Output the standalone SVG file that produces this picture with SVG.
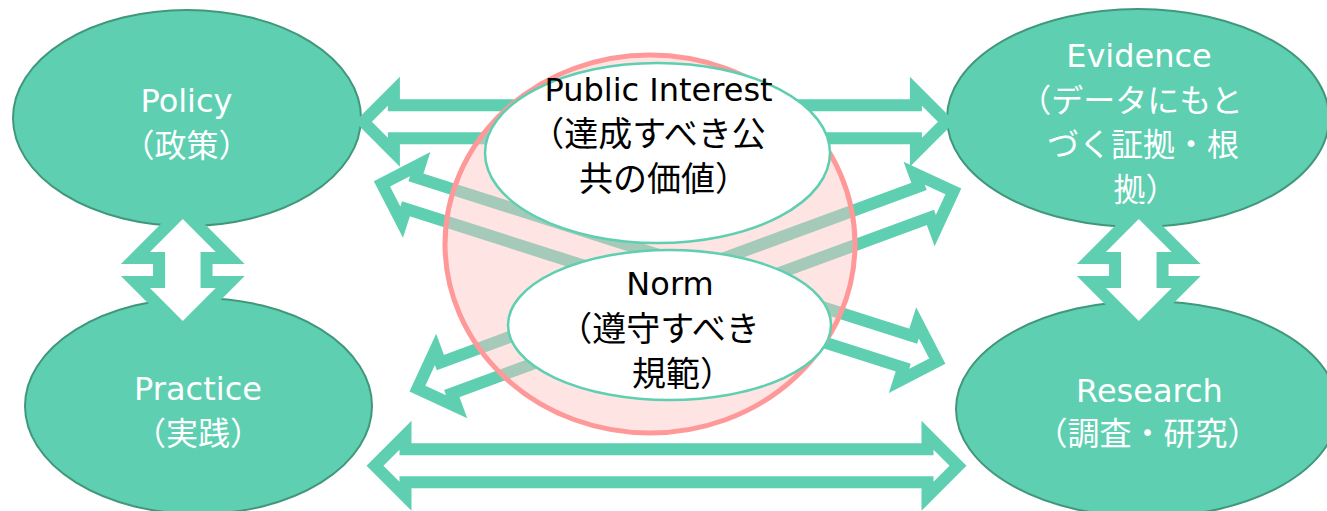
<svg xmlns="http://www.w3.org/2000/svg" width="1327" height="511" viewBox="0 0 1327 511">
  <style>
    .node { fill: #5ECFB1; stroke: #41977B; stroke-width: 2; }
    .arr { fill: #FFFFFF; stroke: #5ECFB1; stroke-width: 12; stroke-linejoin: miter; stroke-miterlimit: 10; }
    .inner { fill: #FFFFFF; stroke: #5ECFB1; stroke-width: 2.5; }
    .t { font-family: "DejaVu Sans", "Noto Sans CJK JP", sans-serif; font-size: 32px; text-anchor: middle; }
    .j { font-size: 34px; }
    .w { fill: #FFFFFF; }
    .k { fill: #000000; }
  </style>
  <defs>
    <polygon id="h600" points="-291.5,0 -261,-30.5 -261,-16.5 261,-16.5 261,-30.5 291.5,0 261,30.5 261,16.5 -261,16.5 -261,30.5"/>
    <polygon id="h588" points="-285.5,0 -255,-30.5 -255,-16.5 255,-16.5 255,-30.5 285.5,0 255,30.5 255,16.5 -255,16.5 -255,30.5"/>
    <polygon id="v120" points="0,-59.4 47.4,-12 23.75,-12 23.75,12 47.4,12 0,59.4 -47.4,12 -23.75,12 -23.75,-12 -47.4,-12"/>
  </defs>

  <g id="policy">
    <ellipse class="node" cx="187" cy="118" rx="174" ry="108"/>
    <text class="t w" x="186.5" y="112">Policy</text>
    <text class="t w" x="186.5" y="157">（政策）</text>
  </g>
  <g id="practice">
    <ellipse class="node" cx="198.5" cy="406" rx="173.5" ry="108"/>
    <text class="t w" x="198" y="400">Practice</text>
    <text class="t w" x="198" y="445">（実践）</text>
  </g>
  <g id="evidence">
    <ellipse class="node" cx="1138" cy="118" rx="191" ry="109"/>
    <text class="t w" x="1139" y="67">Evidence</text>
    <text class="t w" x="1131" y="111.5">（データにもと</text>
    <text class="t w" x="1143" y="156">づく証拠・根</text>
    <text class="t w" x="1145.5" y="200.5">拠）</text>
  </g>
  <g id="research">
    <ellipse class="node" cx="1147" cy="409" rx="191" ry="108"/>
    <text class="t w" x="1149.5" y="402">Research</text>
    <text class="t w" x="1147.5" y="445">（調査・研究）</text>
  </g>

  <g id="connectors">
    <use href="#h600" class="arr" transform="translate(654.9,121.7)"/>
    <use href="#h600" class="arr" transform="translate(666.5,465.8)"/>
    <use href="#h600" class="arr" transform="translate(659.6,272.5) rotate(17.7)"/>
    <use href="#h588" class="arr" transform="translate(685.4,290) rotate(-20.2)"/>
    <use href="#v120" class="arr" transform="translate(182.8,270)"/>
    <use href="#v120" class="arr" transform="translate(1138.8,270)"/>
  </g>

  <g id="values-circle">
    <ellipse cx="650" cy="244" rx="205" ry="189" fill="#FFC4C4" fill-opacity="0.45" stroke="#FF9999" stroke-width="5"/>
  </g>
  <g id="public-interest">
    <ellipse class="inner" cx="657.5" cy="153" rx="172.5" ry="90"/>
    <text class="t k" x="658.5" y="101">Public Interest</text>
    <text class="t j k" x="648" y="146">（達成すべき公</text>
    <text class="t j k" x="664" y="191">共の価値）</text>
  </g>
  <g id="norm">
    <ellipse class="inner" cx="669.5" cy="325" rx="161.5" ry="75"/>
    <text class="t k" x="670" y="295">Norm</text>
    <text class="t j k" x="659" y="341">（遵守すべき</text>
    <text class="t j k" x="683" y="386">規範）</text>
  </g>
</svg>
